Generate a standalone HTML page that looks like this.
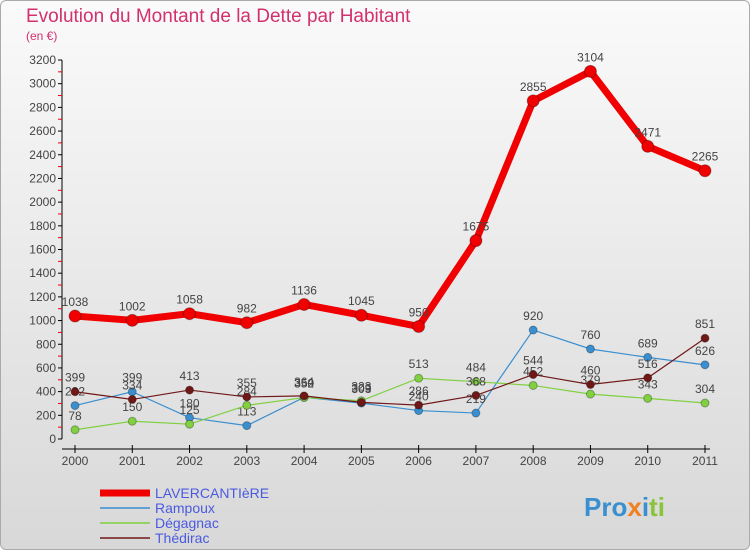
<!DOCTYPE html>
<html><head><meta charset="utf-8"><style>
body{margin:0;width:750px;height:550px;overflow:hidden;font-family:"Liberation Sans",sans-serif}
#wrap{position:absolute;left:0;top:0;width:748px;height:548px;border:1px solid #aaa;border-radius:6px;background:linear-gradient(#fafafa,#d8d8d8)}
</style></head><body>
<div id="wrap"></div>
<svg id="chart" width="750" height="550" style="position:absolute;left:0;top:0">
<text x="26" y="22" font-size="19" fill="#d2306e">Evolution du Montant de la Dette par Habitant</text>
<text x="26" y="40" font-size="12" fill="#d2306e">(en €)</text>
<g id="axes"></g><g id="series"></g><g id="legend"></g>
<text x="584" y="516" font-size="26" font-weight="bold" fill="#3a8fd0">Pro<tspan fill="#f08020">x</tspan><tspan fill="#3a8fd0">i</tspan><tspan fill="#8ac43a">ti</tspan></text>
</svg>
<script>
const years=["2000","2001","2002","2003","2004","2005","2006","2007","2008","2009","2010","2011"];
const lavercantiere=[1038,1002,1058,982,1136,1045,950,1675,2855,3104,2471,2265];
const rampoux=[282,399,180,113,352,303,240,219,920,760,689,626];
const degagnac=[78,150,125,284,350,323,513,484,452,379,343,304];
const thedirac=[399,334,413,355,364,309,286,368,544,460,516,851];
const yTicks=[0,200,400,600,800,1000,1200,1400,1600,1800,2000,2200,2400,2600,2800,3000,3200];
const NS="http://www.w3.org/2000/svg";
const X=i=>75+i*(630/11), Y=v=>439-v*(379/3200);
function mk(t,a,p){const e=document.createElementNS(NS,t);for(const k in a)e.setAttribute(k,a[k]);p.appendChild(e);return e;}
const ax=document.getElementById('axes');
const yl=mk('line',{x1:62,y1:Y(0),x2:62,y2:Y(3200),stroke:'#000'},ax);


const xl=mk('line',{x1:62,y1:449,x2:710,y2:449,stroke:'#000'},ax);


yTicks.forEach((v,k)=>{
 mk('line',{x1:58,y1:Y(v),x2:62,y2:Y(v),stroke:'#000'},ax);
 if(k<yTicks.length-1) mk('line',{x1:58,y1:Y(v+100),x2:62,y2:Y(v+100),stroke:'#e00'},ax);
 const t=mk('text',{x:56,y:Y(v)+4,'text-anchor':'end','font-size':12,fill:'#444'},ax);t.textContent=v;
 
 
});
years.forEach((y,i)=>{
 mk('line',{x1:X(i),y1:445,x2:X(i),y2:453,stroke:'#000'},ax);
 const t=mk('text',{x:X(i),y:465,'text-anchor':'middle','font-size':12,fill:'#444'},ax);t.textContent=y;
 
 
});
const S=document.getElementById('series');
function draw(data,color,w,r,name){
 const g=mk('g',{},S);
 
 
 mk('polyline',{points:data.map((v,i)=>X(i)+','+Y(v)).join(' '),fill:'none',stroke:color,'stroke-width':w},g);
 data.forEach((v,i)=>{
  const c=mk('circle',{cx:X(i),cy:Y(v),r:r,fill:color,stroke:'rgba(0,0,0,0.3)'},g);
  
  
  const t=mk('text',{x:X(i),y:Y(v)-10,'text-anchor':'middle','font-size':12,fill:'#444'},g);t.textContent=v;
 });
}
draw(rampoux,'#3a8fd0',1.2,4,'rampoux');
draw(degagnac,'#80d040',1.2,4,'degagnac');
draw(thedirac,'#701818',1.2,4,'thedirac');
draw(lavercantiere,'#f00000',7,6,'lavercantiere');
const L=document.getElementById('legend');
[['LAVERCANTIèRE','#f00000',7],['Rampoux','#3a8fd0',1.5],['Dégagnac','#80d040',1.5],['Thédirac','#701818',1.5]].forEach((d,i)=>{
 const y=493+i*15;
 const g=mk('g',{},L);
 
 
 mk('line',{x1:100,y1:y,x2:150,y2:y,stroke:d[1],'stroke-width':d[2]},g);
 const t=mk('text',{x:155,y:y+5,'font-size':14,fill:'#4a5ae0'},g);t.textContent=d[0];
});
</script>
</body></html>
